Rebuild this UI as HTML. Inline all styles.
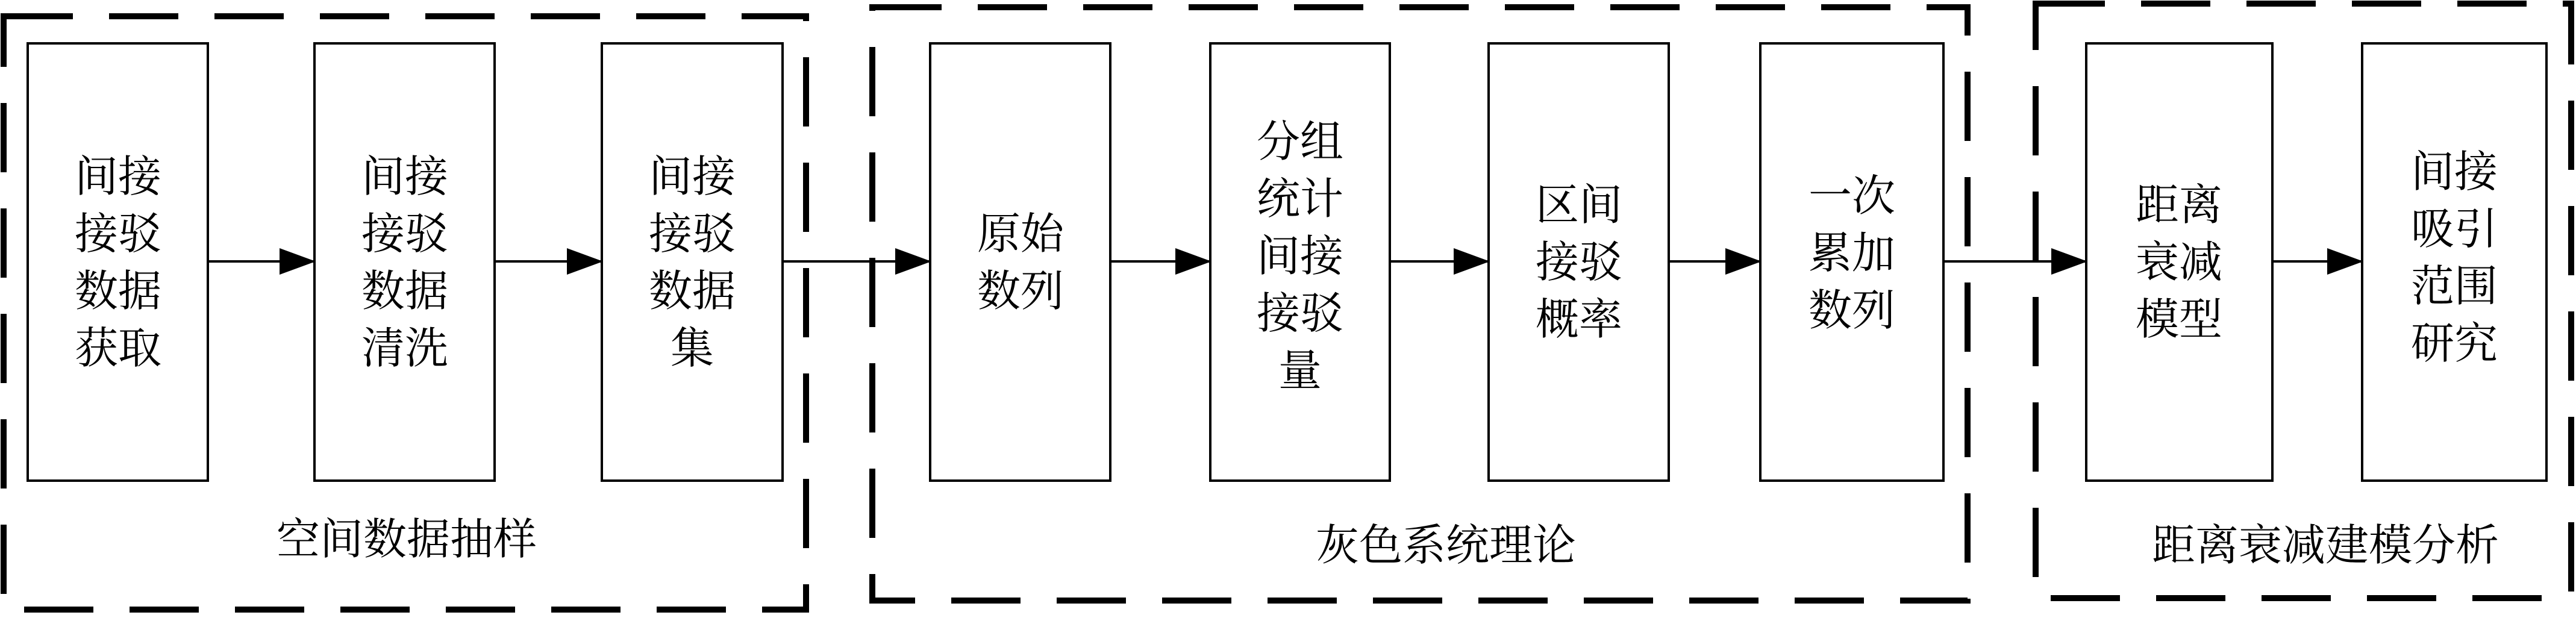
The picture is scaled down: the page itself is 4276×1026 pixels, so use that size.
<!DOCTYPE html>
<html><head><meta charset="utf-8"><style>
html,body{margin:0;padding:0;background:#fff;}
svg text{font-family:"Liberation Serif","Noto Serif CJK SC",serif;fill:#000;}
</style></head><body>
<svg width="4276" height="1021" viewBox="0 0 4276 1021" xmlns="http://www.w3.org/2000/svg">
<defs><marker id="a" markerWidth="60" markerHeight="44" refX="58" refY="22" orient="auto" markerUnits="userSpaceOnUse"><path d="M0,0 L60,22 L0,44 Z" fill="#000"/></marker></defs>
<g fill="none" stroke="#000" stroke-width="10" stroke-dasharray="115 60">
<rect x="6" y="27" width="1332" height="985"/>
<rect x="1448" y="12" width="1818" height="985"/>
<rect x="3379" y="6" width="889" height="987"/>
</g>
<g fill="#fff" stroke="#000" stroke-width="4">
<rect x="46" y="72" width="299" height="726"/>
<rect x="522" y="72" width="299" height="726"/>
<rect x="999" y="72" width="300" height="726"/>
<rect x="1544" y="72" width="299" height="726"/>
<rect x="2009" y="72" width="298" height="726"/>
<rect x="2471" y="72" width="299" height="726"/>
<rect x="2922" y="72" width="304" height="726"/>
<rect x="3463" y="72" width="309" height="726"/>
<rect x="3921" y="72" width="306" height="726"/>
</g>
<g stroke="#000" stroke-width="4" marker-end="url(#a)">
<line x1="345" y1="434" x2="522" y2="434"/>
<line x1="821" y1="434" x2="999" y2="434"/>
<line x1="1299" y1="434" x2="1544" y2="434"/>
<line x1="1843" y1="434" x2="2009" y2="434"/>
<line x1="2307" y1="434" x2="2471" y2="434"/>
<line x1="2770" y1="434" x2="2922" y2="434"/>
<line x1="3226" y1="434" x2="3463" y2="434"/>
<line x1="3772" y1="434" x2="3921" y2="434"/>
</g>
<g font-size="72" text-anchor="middle">
<text x="196" y="318">间接</text><text x="196" y="413">接驳</text><text x="196" y="508">数据</text><text x="196" y="603">获取</text>
<text x="672" y="318">间接</text><text x="672" y="413">接驳</text><text x="672" y="508">数据</text><text x="672" y="603">清洗</text>
<text x="1149" y="318">间接</text><text x="1149" y="413">接驳</text><text x="1149" y="508">数据</text><text x="1149" y="603">集</text>
<text x="1694" y="413">原始</text><text x="1694" y="508">数列</text>
<text x="2158" y="260">分组</text><text x="2158" y="355">统计</text><text x="2158" y="450">间接</text><text x="2158" y="545">接驳</text><text x="2158" y="640">量</text>
<text x="2621" y="365">区间</text><text x="2621" y="460">接驳</text><text x="2621" y="555">概率</text>
<text x="3074" y="350">一次</text><text x="3074" y="445">累加</text><text x="3074" y="540">数列</text>
<text x="3617" y="365">距离</text><text x="3617" y="460">衰减</text><text x="3617" y="555">模型</text>
<text x="4074" y="310">间接</text><text x="4074" y="405">吸引</text><text x="4074" y="500">范围</text><text x="4074" y="595">研究</text>
<text x="675" y="920">空间数据抽样</text>
<text x="2400" y="930">灰色系统理论</text>
<text x="3860" y="930">距离衰减建模分析</text>
</g>
</svg>
</body></html>
